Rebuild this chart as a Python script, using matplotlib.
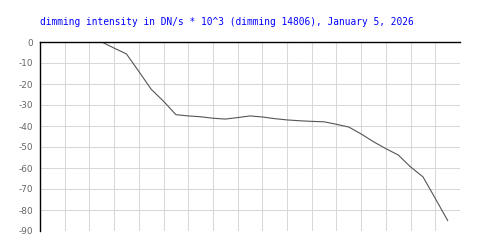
import numpy as np
import matplotlib
matplotlib.use("Agg")
import matplotlib.pyplot as plt

# horas (en unidades de la rejilla) y valores de atenuacion
horas = [2.5, 3.0, 3.5, 4.0, 4.5, 5.0, 5.5, 6.0, 6.5, 7.0, 7.5, 8.0, 8.5, 9.0, 9.5,
         10.0, 10.5, 11.0, 11.5, 12.0, 12.5, 13.0, 13.5, 14.0, 14.5, 15.0, 15.5, 16.0, 16.5]
valores = [0.0, -2.9, -5.7, -14.0, -22.5, -28.2, -34.6, -35.2, -35.6, -36.3, -36.7, -36.0,
           -35.2, -35.7, -36.5, -37.1, -37.5, -37.8, -38.0, -39.2, -40.5, -43.8, -47.5,
           -50.8, -53.8, -59.5, -64.2, -74.5, -85.0]
yticks = [0, -10, -20, -30, -40, -50, -60, -70, -80, -90]
titulo = "dimming intensity in DN/s * 10^3 (dimming 14806), January 5, 2026"

fig = plt.figure(figsize=(5, 2.5), dpi=100)
ax = fig.add_axes([0.08, 0.076, 0.84, 0.756])

ax.plot(horas, valores, color="#555555", lw=0.8)

ax.set_xlim(0, 17)
ax.set_ylim(-90, 0)
ax.set_xticks(np.arange(0, 18, 1))
ax.set_yticks(yticks)
ax.set_xticklabels([])
ax.set_yticklabels([str(v) for v in yticks], fontsize=6.4, color="#666666")
ax.tick_params(length=0, pad=5)
ax.grid(True, color="#d8d8d8", lw=0.75)
ax.set_axisbelow(True)

for lado in ["right", "bottom"]:
    ax.spines[lado].set_visible(False)
for lado in ["left", "top"]:
    ax.spines[lado].set_color("black")
    ax.spines[lado].set_linewidth(1.0)

fig.text(0.08, 1 - 22 / 250, titulo, color="blue", family="DejaVu Sans Mono",
         fontsize=6.85, va="center", ha="left")

fig.savefig("out.png", dpi=100)
